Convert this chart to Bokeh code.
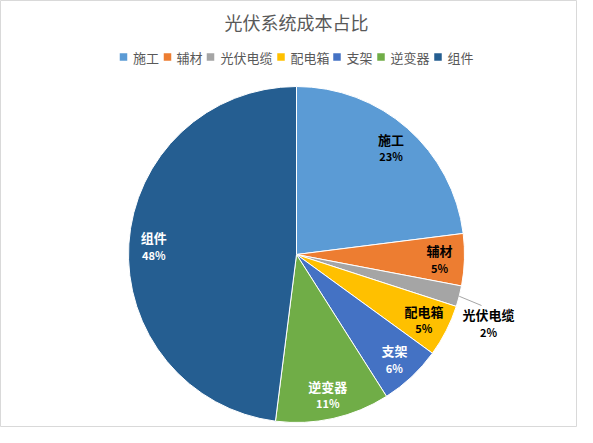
import math
from bokeh.plotting import figure
from bokeh.models import Range1d, ColumnDataSource
from bokeh.core.properties import value
from bokeh.embed import file_html
from bokeh.resources import INLINE

# ---- data ----
title_text = "光伏系统成本占比"
categories = ["施工", "辅材", "光伏电缆", "配电箱", "支架", "逆变器", "组件"]
shares = [23, 5, 2, 5, 6, 11, 48]
colors = ["#5B9BD5", "#ED7D31", "#A5A5A5", "#FFC000", "#4472C4", "#70AD47", "#255E91"]
label_colors = ["#000000", "#000000", "#000000", "#000000", "#FFFFFF", "#FFFFFF", "#FFFFFF"]

# ---- layout (page pixels of the reference) ----
W, H = 577, 427
OFF = 0
FONT = "Noto Sans CJK SC"
CX, CY, R = 296, 254, 168
LABEL_R = 143
legend_square_x = [123, 167, 210, 280.5, 336.5, 380.5, 437.5]
legend_text_x = [132.5, 176, 220, 290, 346, 390, 447]
legend_y = 56.5
outside_label = {"光伏电缆": (488, 322, 481, 305)}


def X(px):
    return px - OFF


def Y(py):
    return H + OFF - py


p = figure(width=W, height=H, x_range=Range1d(0, W), y_range=Range1d(0, H),
           x_axis_type=None, y_axis_type=None, toolbar_location=None,
           output_backend="svg", min_border=0)
p.grid.visible = False
p.outline_line_color = "#D9D9D9"
p.background_fill_color = "white"
p.border_fill_color = "white"

# pie wedges
total = float(sum(shares))
starts, ends, mids = [], [], []
c = 0.0
for s in shares:
    c0 = c / total
    c += s
    c1 = c / total
    starts.append(math.pi / 2 - 2 * math.pi * c0)
    ends.append(math.pi / 2 - 2 * math.pi * c1)
    mids.append(math.pi / 2 - 2 * math.pi * (c0 + c1) / 2)

src = ColumnDataSource(dict(start=starts, end=ends, color=colors, cat=categories))
p.wedge(x=X(CX), y=Y(CY), radius=R, start_angle="start", end_angle="end",
        direction="clock", fill_color="color", line_color="white", line_width=1,
        source=src)

# data labels
nx, ny, px_, py_, txt_n, txt_p, tc = [], [], [], [], [], [], []
lx0, ly0, lx1, ly1 = [], [], [], []
for cat, s, m, col in zip(categories, shares, mids, label_colors):
    if cat in outside_label:
        ax, ay, ex, ey = outside_label[cat]
        sx = CX + R * math.cos(m)
        sy = CY - R * math.sin(m)
        lx0.append(X(sx)); ly0.append(Y(sy)); lx1.append(X(ex)); ly1.append(Y(ey))
    else:
        ax = CX + LABEL_R * math.cos(m)
        ay = CY - LABEL_R * math.sin(m)
    nx.append(X(ax)); ny.append(Y(ay - 8))
    px_.append(X(ax)); py_.append(Y(ay + 9))
    txt_n.append(cat); txt_p.append(f"{s}%"); tc.append(col)

if lx0:
    p.segment(x0=lx0, y0=ly0, x1=lx1, y1=ly1, line_color="#A6A6A6", line_width=1)

p.text(x=nx, y=ny, text=txt_n, text_color=tc, text_font=value(FONT),
       text_font_style="bold", text_font_size="13px", text_align="center",
       text_baseline="middle")
p.text(x=px_, y=py_, text=txt_p, text_color=tc, text_font=value(FONT),
       text_font_style="bold", text_font_size="11px", text_align="center",
       text_baseline="middle")

# title
p.text(x=[X(296)], y=[Y(21.5)], text=[title_text], text_color="#595959",
       text_font=value(FONT), text_font_size="18px", text_align="center",
       text_baseline="middle")

# legend
p.rect(x=[X(v) for v in legend_square_x], y=[Y(legend_y)] * len(categories),
       width=7.5, height=7.5, fill_color=colors, line_color=None)
p.text(x=[X(v) for v in legend_text_x], y=[Y(legend_y)] * len(categories),
       text=categories, text_color="#595959", text_font=value(FONT),
       text_font_size="13px", text_align="left", text_baseline="middle")

open("out.html", "w").write(file_html(p, INLINE))
